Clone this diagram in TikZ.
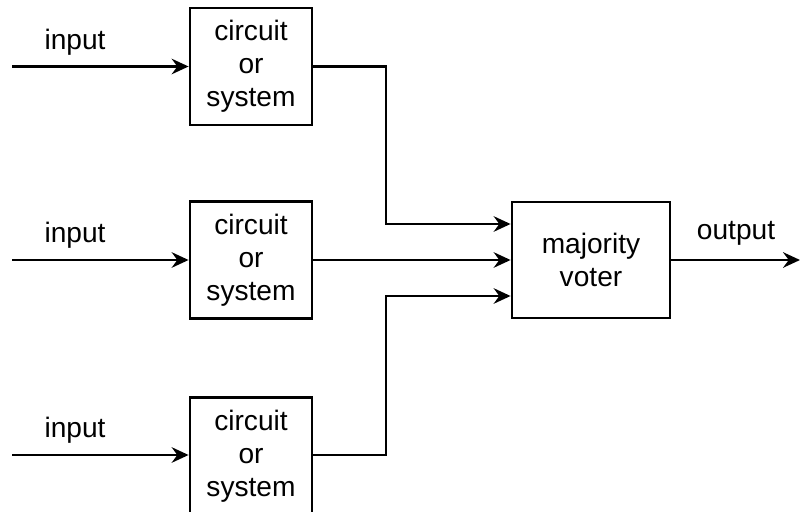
\documentclass[tikz,border=0pt]{standalone}
\usepackage{fontspec}
\setmainfont{Liberation Sans}
\usetikzlibrary{arrows.meta}

\begin{document}
\begin{tikzpicture}[>={Stealth[length=12pt,width=11pt,inset=4pt]},line width=2pt,
  block/.style={draw,align=center,minimum width=3.05cm,minimum height=2.925cm,
    font=\fontsize{20}{23.5}\selectfont},
  lbl/.style={font=\fontsize{20}{24}\selectfont}]
	\useasboundingbox (0,0) rectangle (20.05,12.775);
	% the three redundant modules
	\node[block] (sys1) at (6.275,11.1125) {circuit\\or\\system};
	\node[block] (sys2) at (6.275,6.275) {circuit\\or\\system};
	\node[block] (sys3) at (6.275,1.38) {circuit\\or\\system};
	% voter
	\node[block,minimum width=3.95cm,minimum height=2.9cm] (voter) at (14.775,6.275) {majority\\voter};
	% inputs
	\coordinate (in1) at (0.3,11.1125);
	\coordinate (in2) at (0.3,6.275);
	\coordinate (in3) at (0.3,1.4);
	\draw[->] (in1) -- (sys1);
	\draw[->] (in2) -- (sys2);
	\draw[->] (in3) -- (sys3.west |- in3);
	\node[lbl] (lin1) at (1.875,11.72) {input};
	\node[lbl] (lin2) at (1.875,6.9) {input};
	\node[lbl] (lin3) at (1.875,2.02) {input};
	% module outputs to the voter
	\coordinate (bend1) at (9.65,11.1125);
	\coordinate (bend3) at (9.65,1.4);
	\draw[->] (sys1.east) -- (bend1) |- ([yshift=0.9cm]voter.west);
	\draw[->] (sys2.east) -- (voter.west);
	\draw[->] (sys3.east |- bend3) -- (bend3) |- ([yshift=-0.9cm]voter.west);
	% output
	\coordinate (out) at (20.0,6.275);
	\draw[->] (voter.east) -- (out);
	\node[lbl] (lout) at (18.4,6.95) {output};
\end{tikzpicture}
\end{document}
